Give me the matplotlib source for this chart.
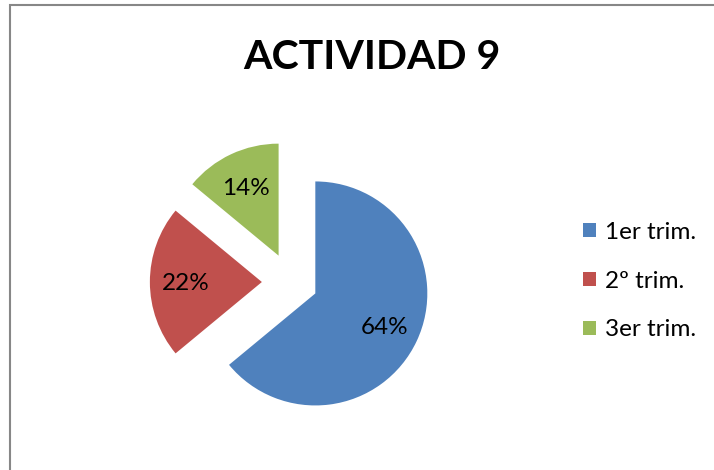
import matplotlib
matplotlib.use("Agg")
import matplotlib.pyplot as plt
from matplotlib.patches import Rectangle

# chart data
labels = ["1er trim.", "2º trim.", "3er trim."]
shares = [64, 22, 14]
colors = ["#4F81BD", "#C0504D", "#9BBB59"]
explode = [0.24, 0.26, 0.26]
title = "ACTIVIDAD 9"

plt.rcParams["font.family"] = ["Lato", "DejaVu Sans"]

W, H = 714, 470
fig = plt.figure(figsize=(W / 100, H / 100), dpi=100)

# pie area: 336 px box, data range 3 units -> radius 112 px
ax = fig.add_axes([123 / W, 20 / H, 336 / W, 336 / H])
wedges, texts, autotexts = ax.pie(
    shares,
    colors=colors,
    explode=explode,
    startangle=90,
    counterclock=False,
    autopct="%1.0f%%",
    pctdistance=0.68,
    wedgeprops={"linewidth": 0},
    textprops={"fontsize": 17.5, "color": "black"},
)
for t in autotexts:
    t.set_va("center_baseline")
ax.set_xlim(-1.5, 1.5)
ax.set_ylim(-1.5, 1.5)
ax.set_aspect("equal")
ax.axis("off")

fig.text(372 / W, (H - 69) / H, title, ha="center", va="baseline",
         fontsize=29.5, fontweight="bold")

fig.legend(
    wedges, labels,
    loc="center left",
    bbox_to_anchor=(583 / W, (H - 281) / H),
    frameon=False,
    fontsize=17.5,
    handlelength=0.54,
    handleheight=0.54,
    handletextpad=0.38,
    labelspacing=1.15,
    borderpad=0,
    borderaxespad=0,
)

# chart border (only left and top edges are visible in the crop)
fig.patches.append(Rectangle((9.5 / W, -0.1), 1.2, (H - 5) / H + 0.1,
                             transform=fig.transFigure, fill=False,
                             edgecolor="#878787", linewidth=1.5))

fig.savefig("out.png", dpi=100)
